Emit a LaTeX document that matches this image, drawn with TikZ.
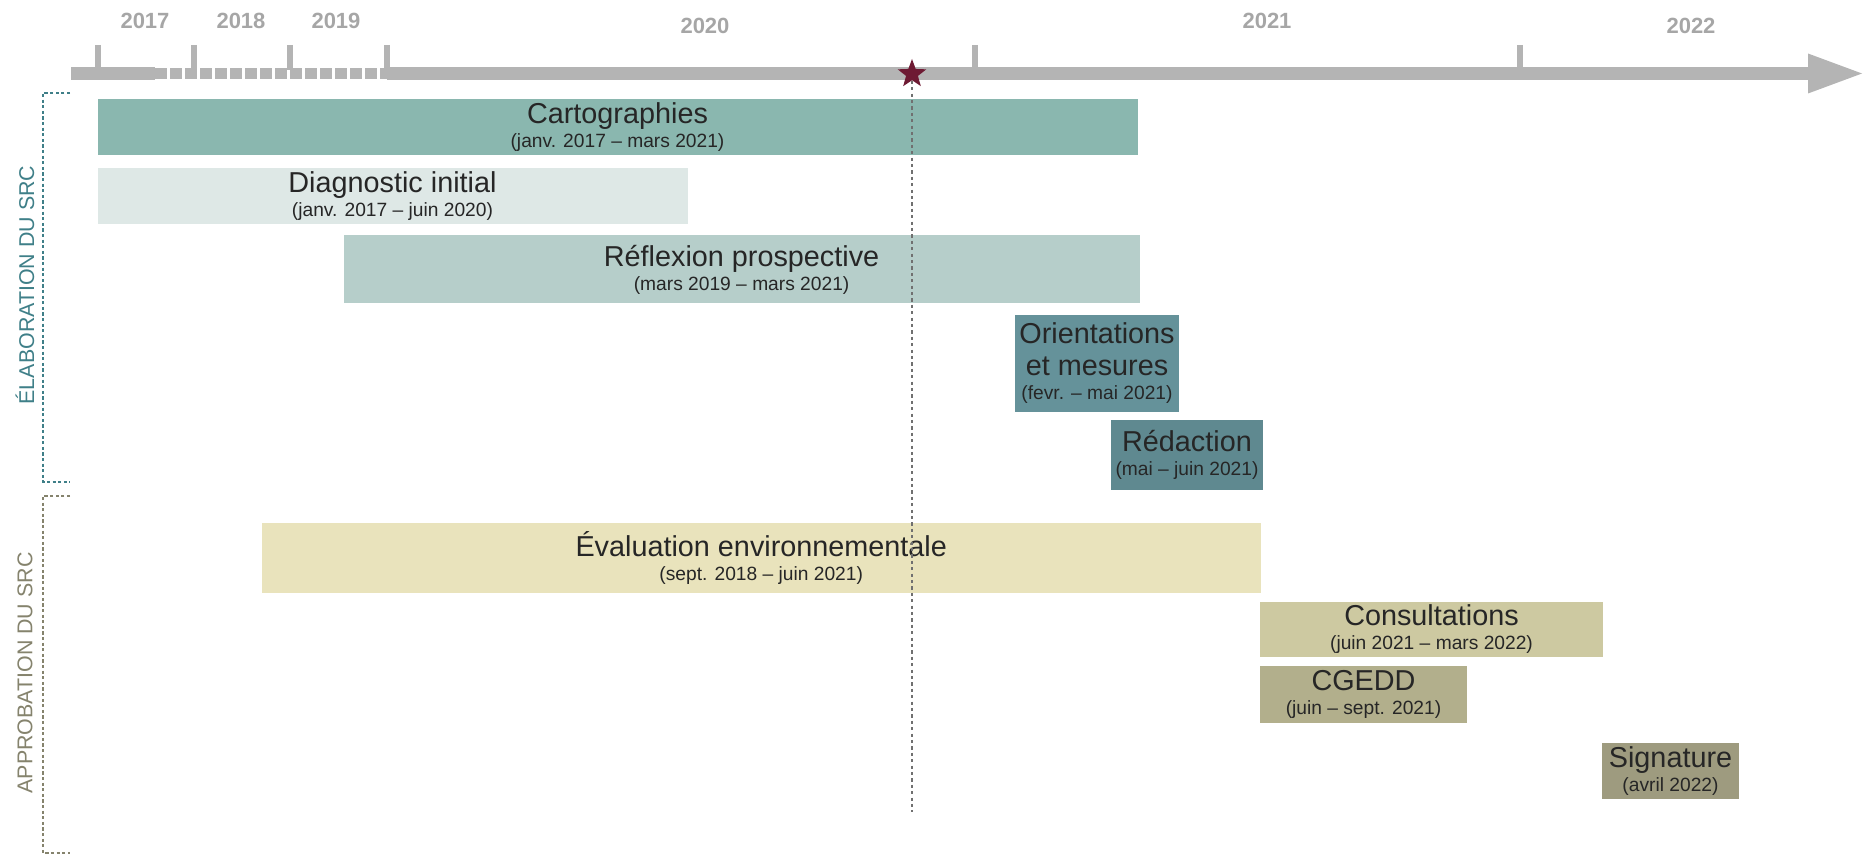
\documentclass[tikz,border=0pt]{standalone}
\usepackage{fontspec}
\setmainfont{Liberation Sans}
\usetikzlibrary{shapes.geometric}

\definecolor{axisgrey}{HTML}{B4B4B4}
\definecolor{yeargrey}{HTML}{A6A6A6}
\definecolor{starred}{HTML}{6E1A33}
\definecolor{nowgrey}{HTML}{707070}
\definecolor{textdark}{HTML}{262626}
\definecolor{cartocol}{HTML}{8AB7AF}
\definecolor{diagcol}{HTML}{DEE8E6}
\definecolor{reflexcol}{HTML}{B6CECA}
\definecolor{orientcol}{HTML}{65929A}
\definecolor{redaccol}{HTML}{5F8990}
\definecolor{evalcol}{HTML}{E9E3BC}
\definecolor{consultcol}{HTML}{CDC9A1}
\definecolor{cgeddcol}{HTML}{B2AF8C}
\definecolor{signcol}{HTML}{9E9B7F}
\definecolor{elabcol}{HTML}{3F7F88}
\definecolor{approbcol}{HTML}{85836D}

\newcommand{\phasedates}[1]{{\fontsize{9.6}{12}\selectfont(#1)}}

\begin{document}
\begin{tikzpicture}[x=0.5pt,y=-0.5pt,
    phasebox/.style={rectangle,inner sep=0pt,align=center,text=textdark,
        font=\fontsize{14.4}{12}\selectfont},
    yearlabel/.style={text=yeargrey,font=\bfseries\fontsize{11}{13}\selectfont},
    yeartick/.style={draw=axisgrey,line width=3pt},
    axisline/.style={draw=axisgrey,line width=6.5pt},
    nowline/.style={draw=nowgrey,line width=0.6pt,dash pattern=on 1.6pt off 1.6pt},
    sidelabel/.style={rotate=90,font=\fontsize{10.7}{12}\selectfont},
    bracket/.style={line width=0.7pt,dash pattern=on 1.6pt off 1.2pt}]
\useasboundingbox (0,0) rectangle (1865,855);

% time axis
\coordinate (axstart) at (71,73.5);
\coordinate (dashstart) at (155,73.5);
\coordinate (dashend) at (387,73.5);
\coordinate (axend) at (1810,73.5);
\draw[axisline] (axstart) -- (dashstart);
\draw[axisline,line width=5.5pt,dash pattern=on 6pt off 1.5pt] (dashstart) -- (dashend);
\draw[axisline] (dashend) -- (axend);
\fill[axisgrey] (1808,53.5) -- (1862,73.5) -- (1808,93.5) -- cycle;

\foreach \x in {97.5,193.5,289.5,386.5,975,1520}
    \draw[yeartick] (\x,45) -- (\x,70);

\node[yearlabel] (y2017) at (145,21) {2017};
\node[yearlabel] (y2018) at (241,21) {2018};
\node[yearlabel] (y2019) at (336,21) {2019};
\node[yearlabel] (y2020) at (705,26) {2020};
\node[yearlabel] (y2021) at (1267,21) {2021};
\node[yearlabel] (y2022) at (1691,26) {2022};

% phases
\node[phasebox,fill=cartocol,minimum width=520pt,minimum height=28pt] (carto) at (617.5,126.6)
    {Cartographies\\\phasedates{janv. 2017 – mars 2021}};
\node[phasebox,fill=diagcol,minimum width=295pt,minimum height=28pt] (diag) at (392.5,195.6)
    {Diagnostic initial\\\phasedates{janv. 2017 – juin 2020}};
\node[phasebox,fill=reflexcol,minimum width=398pt,minimum height=34pt] (reflex) at (741.6,269.4)
    {Réflexion prospective\\\phasedates{mars 2019 – mars 2021}};
\node[phasebox,fill=orientcol,minimum width=82pt,minimum height=48.5pt] (orient) at (1097,363.5)
    {Orientations\\[4pt]et mesures\\\phasedates{fevr. – mai 2021}};
\node[phasebox,fill=redaccol,minimum width=76pt,minimum height=35pt] (redac) at (1187,455)
    {Rédaction\\\phasedates{mai – juin 2021}};
\node[phasebox,fill=evalcol,minimum width=499.5pt,minimum height=35.25pt] (eval) at (761.25,558.25)
    {Évaluation environnementale\\\phasedates{sept. 2018 – juin 2021}};
\node[phasebox,fill=consultcol,minimum width=171.5pt,minimum height=27.5pt] (consult) at (1431.5,629.5)
    {Consultations\\\phasedates{juin 2021 – mars 2022}};
\node[phasebox,fill=cgeddcol,minimum width=103.5pt,minimum height=28.5pt] (cgedd) at (1363.5,694.5)
    {CGEDD\\\phasedates{juin – sept. 2021}};
\node[phasebox,fill=signcol,minimum width=68.5pt,minimum height=28pt] (sign) at (1670.5,771)
    {Signature\\\phasedates{avril 2022}};

% today
\node[star,star points=5,star point ratio=2.4,fill=starred,minimum size=15pt,inner sep=0pt] (now) at (912,74) {};
\coordinate (nowend) at (912,812);
\draw[nowline] (now.south) -- (nowend);

% groups
\draw[bracket,draw=elabcol] (70,93) -- (43,93) -- (43,482) -- (70,482);
\draw[bracket,draw=approbcol] (70,496) -- (43,496) -- (43,853) -- (70,853);
\node[sidelabel,text=elabcol] (elab) at (25,285) {ÉLABORATION DU SRC};
\node[sidelabel,text=approbcol] (approb) at (25,673) {APPROBATION DU SRC};
\end{tikzpicture}
\end{document}
